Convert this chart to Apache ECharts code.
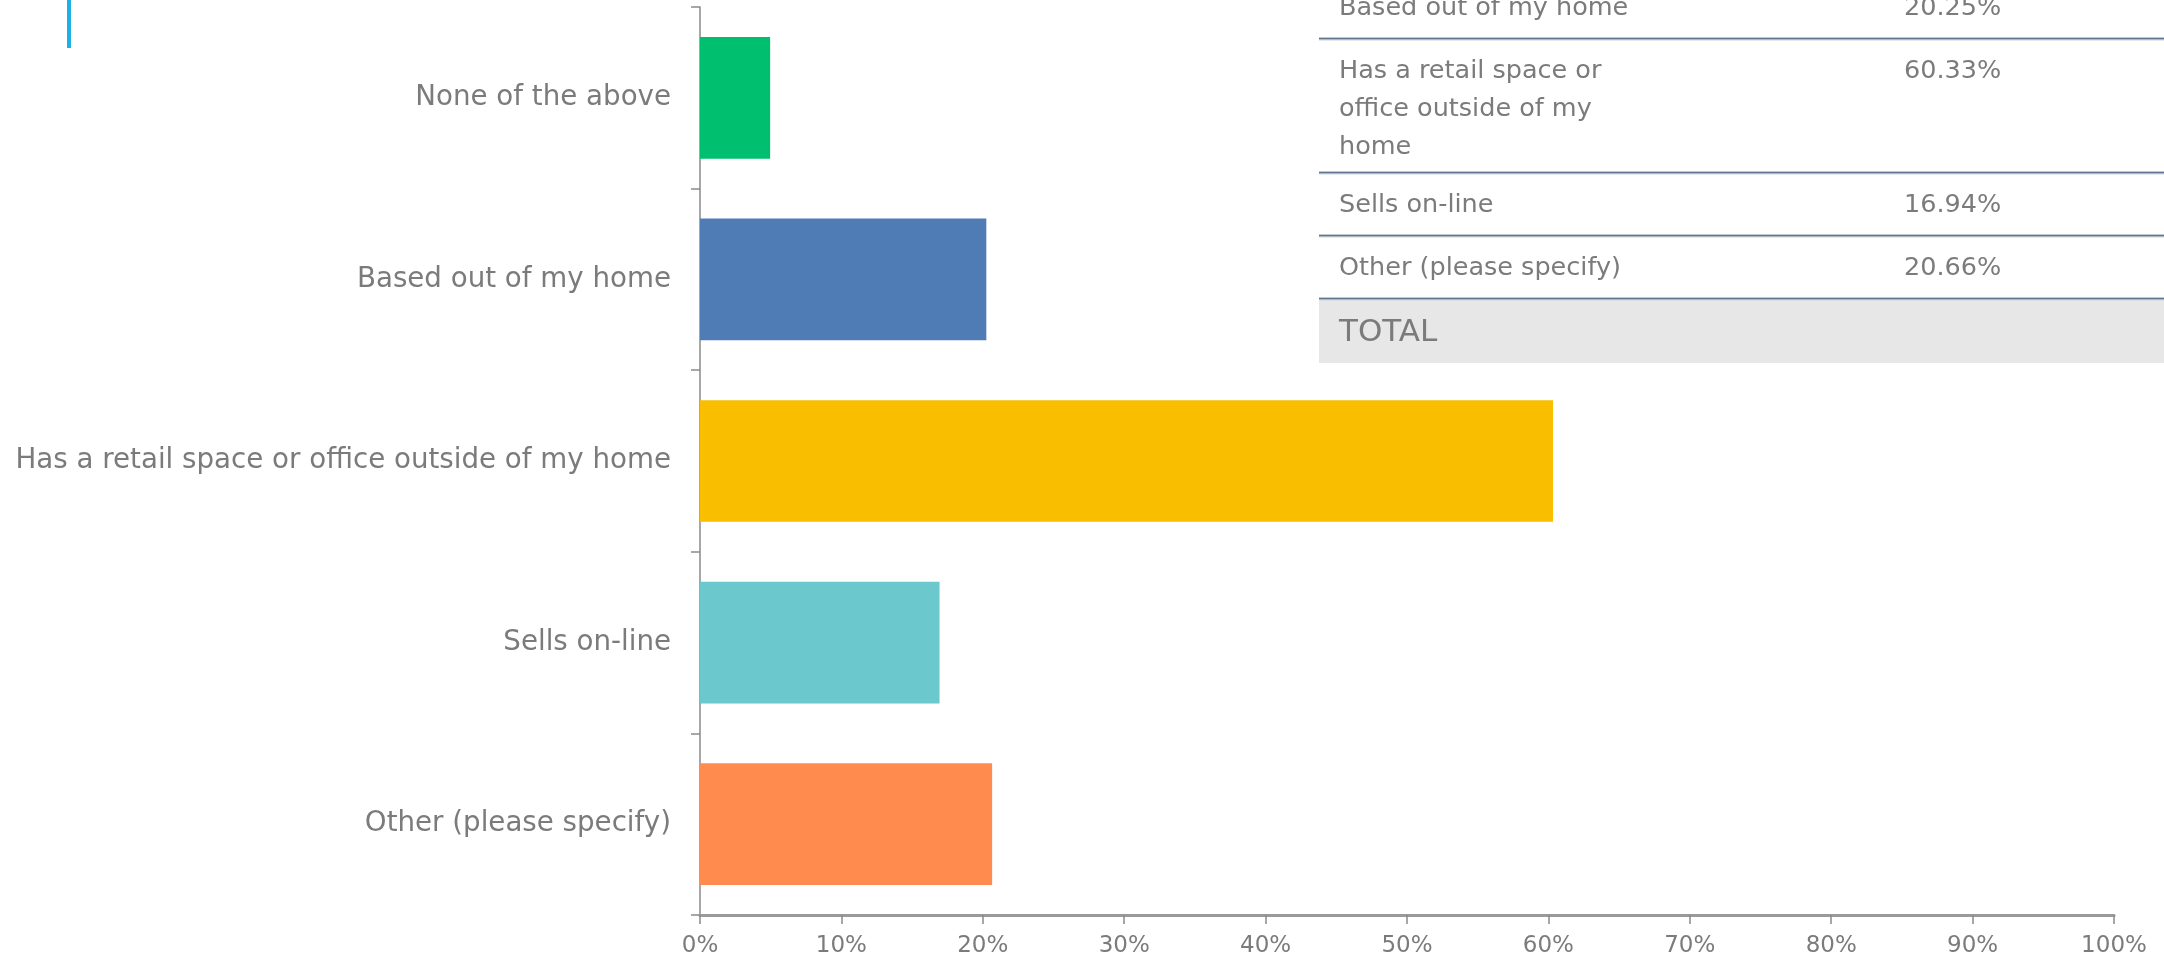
<!DOCTYPE html>
<html>
<head>
<meta charset="utf-8">
<script src="https://cdn.jsdelivr.net/npm/echarts@6/dist/echarts.min.js"></script>
<style>
html,body{margin:0;padding:0;background:#fff;}
#chart{width:2164px;height:958px;}
</style>
</head>
<body>
<div id="chart"></div>
<script>
const categories = ['None of the above', 'Based out of my home', 'Has a retail space or office outside of my home', 'Sells on-line', 'Other (please specify)'];
const values = [4.96, 20.25, 60.33, 16.94, 20.66];
const barColors = ['#00bf6f', '#507cb6', '#f9be00', '#6bc8cd', '#ff8b4f'];
const tableLabels = ['Based out of my home', 'Has a retail space or\noffice outside of my\nhome', 'Sells on-line', 'Other (please specify)'];
const tableValues = ['20.25%', '60.33%', '16.94%', '20.66%'];
const totalLabel = 'TOTAL';

const FONT = '"DejaVu Sans", sans-serif';
const TXT = '#7b7b7b';

const chart = echarts.init(document.getElementById('chart'));

const rowCenters = [8, 71, 205, 268];
const rowLines = [39, 173, 236, 299];
const tLeft = 1319, tRight = 2164;
const graphics = [];
graphics.push({type: 'rect', shape: {x: 67, y: 0, width: 4, height: 48}, style: {fill: '#1fb0e6'}});
graphics.push({type: 'rect', shape: {x: tLeft, y: -30, width: tRight - tLeft, height: 393}, style: {fill: '#ffffff'}, z: 10});
graphics.push({type: 'rect', shape: {x: tLeft, y: 299, width: tRight - tLeft, height: 64}, style: {fill: '#e7e7e7'}, z: 11});
rowLines.forEach(function (y) {
  graphics.push({type: 'line', shape: {x1: tLeft, y1: y, x2: tRight, y2: y}, style: {stroke: '#c9d3dc', lineWidth: 3}, z: 11});
  graphics.push({type: 'line', shape: {x1: tLeft, y1: y - 0.5, x2: tRight, y2: y - 0.5}, style: {stroke: '#5c7489', lineWidth: 1.5}, z: 12});
});
tableLabels.forEach(function (t, i) {
  graphics.push({type: 'text', x: 1339, y: rowCenters[i] - 19, z: 13,
    style: {text: t, font: '25.5px ' + FONT, fill: TXT, lineHeight: 38, verticalAlign: 'top', align: 'left'}});
  graphics.push({type: 'text', x: 1904, y: rowCenters[i] - 19, z: 13,
    style: {text: tableValues[i], font: '25.5px ' + FONT, fill: TXT, lineHeight: 38, verticalAlign: 'top', align: 'left'}});
});
graphics.push({type: 'text', x: 1339, y: 333, z: 13,
  style: {text: totalLabel, font: '31px ' + FONT, fill: TXT, verticalAlign: 'middle', align: 'left'}});

chart.setOption({
  animation: false,
  backgroundColor: '#ffffff',
  grid: {left: 700, right: 50, top: 7, bottom: 43, containLabel: false},
  xAxis: {
    type: 'value', min: 0, max: 100, interval: 10,
    axisLine: {show: true, lineStyle: {color: '#9a9a9a', width: 3}},
    axisTick: {show: true, length: 9, lineStyle: {color: '#8a8a8a', width: 1.5}},
    axisLabel: {formatter: '{value}%', color: TXT, fontSize: 23, fontFamily: FONT, margin: 20},
    splitLine: {show: false}
  },
  yAxis: {
    type: 'category', data: categories, inverse: true,
    axisLine: {show: true, lineStyle: {color: '#8a8a8a', width: 1.5}},
    axisTick: {show: true, length: 9, lineStyle: {color: '#8a8a8a', width: 1.5}},
    axisLabel: {color: TXT, fontSize: 27.7, fontFamily: FONT, margin: 29}
  },
  series: [{
    type: 'bar',
    data: values.map(function (v, i) { return {value: v, itemStyle: {color: barColors[i]}}; }),
    barCategoryGap: '33%'
  }],
  graphic: graphics
});
</script>
</body>
</html>
